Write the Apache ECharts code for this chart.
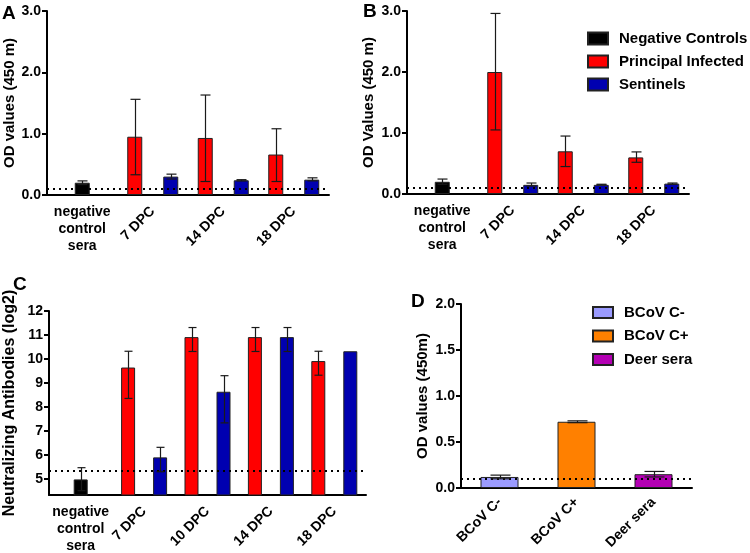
<!DOCTYPE html>
<html><head><meta charset="utf-8">
<script src="https://cdn.jsdelivr.net/npm/echarts@6/dist/echarts.min.js"></script>
<style>html,body{margin:0;padding:0;background:#fff}#c{width:750px;height:553px}</style>
</head><body><div id="c"></div>
<script>
// ---------------- data ----------------
const catsAB = ['negative\ncontrol\nsera', '7 DPC', '14 DPC', '18 DPC'];
const catsC  = ['negative\ncontrol\nsera', '7 DPC', '10 DPC', '14 DPC', '18 DPC'];
const catsD  = ['BCoV C-', 'BCoV C+', 'Deer sera'];

const A_neg = [0.20, null, null, null];
const A_neg_err = [[0.17, 0.23], null, null, null];
const A_inf = [null, 0.95, 0.93, 0.66];
const A_inf_err = [null, [0.33, 1.56], [0.22, 1.63], [0.22, 1.08]];
const A_sen = [null, 0.30, 0.24, 0.25];
const A_sen_err = [null, [0.26, 0.34], [0.23, 0.25], [0.23, 0.28]];

const B_neg = [0.20, null, null, null];
const B_neg_err = [[0.16, 0.245], null, null, null];
const B_inf = [null, 2.00, 0.70, 0.60];
const B_inf_err = [null, [1.05, 2.96], [0.45, 0.95], [0.52, 0.69]];
const B_sen = [null, 0.15, 0.15, 0.17];
const B_sen_err = [null, [0.13, 0.18], [0.15, 0.16], [0.16, 0.18]];

const C_neg = [4.97, null, null, null, null];
const C_neg_err = [[4.5, 5.46], null, null, null, null];
const C_inf = [null, 9.64, 10.91, 10.91, 9.91];
const C_inf_err = [null, [8.35, 10.32], [10.31, 11.31], [10.31, 11.31], [9.32, 10.32]];
const C_sen = [null, 5.89, 8.63, 10.91, 10.32];
const C_sen_err = [null, [5.29, 6.31], [7.33, 9.30], [10.31, 11.31], null];

const D_cneg = [0.12, null, null];
const D_cpos = [null, 0.72, null];
const D_deer = [null, null, 0.15];
const D_err = [[0.10, 0.14], [0.71, 0.73], [0.12, 0.18]];

const cutoffAB = [0.1];
const cutoffC = [5.32];
const cutoffD = [0.1];
const yTicksC = [5, 6, 7, 8, 9, 10, 11, 12];

// ---------------- styling helpers ----------------
const FF = '"Liberation Sans", Arial, Helvetica, sans-serif';
const COL = {neg: '#000000', inf: '#ff0000', sen: '#0000b0', cneg: '#9b9bff', cpos: '#ff8000', deer: '#b400b4'};
const txt = {color: '#000', fontFamily: FF, fontWeight: 'bold', fontSize: 14};

function gridAt(l, t, w, h) {
  return {left: l, top: t, width: w, height: h, containLabel: false, outerBoundsMode: 'none'};
}
function xMain(gi, cats, margin) {
  return {type: 'category', gridIndex: gi, data: cats, boundaryGap: true,
    axisLine: {lineStyle: {color: '#000', width: 2}},
    axisTick: {alignWithLabel: true, length: 6, lineStyle: {color: '#000', width: 2}},
    axisLabel: Object.assign({interval: 0, rotate: 45, margin: margin,
      formatter: (v, i) => (cats.length > 3 && i === 0) ? '' : v}, txt)};
}
function xNeg(gi, cats) {
  return {type: 'category', gridIndex: gi, data: cats, boundaryGap: true,
    axisLine: {show: false}, axisTick: {show: false},
    axisLabel: Object.assign({interval: 0, margin: 9, lineHeight: 17, align: 'center',
      formatter: (v, i) => i === 0 ? v : ''}, txt)};
}
function yAx(gi, o) {
  return Object.assign({type: 'value', gridIndex: gi, nameLocation: 'middle', nameRotate: 90,
    nameTextStyle: {color: '#000', fontFamily: FF, fontWeight: 'bold', fontSize: o.nameSize},
    axisLine: {show: true, lineStyle: {color: '#000', width: 2}},
    axisTick: {show: true, length: 5, lineStyle: {color: '#000', width: 2}},
    axisLabel: Object.assign({margin: 6, formatter: o.fmt}, txt, o.labelExtra || {}),
    splitLine: {show: false}}, o.ax);
}
const nz = arr => arr.map(v => v == null ? '-' : v);
function bar(name, xi, color, data, bw, gap) {
  return {type: 'bar', name: name, xAxisIndex: xi, yAxisIndex: xi, data: nz(data),
    barWidth: bw, barGap: gap, z: 2, silent: true,
    itemStyle: {color: color, borderColor: '#222', borderWidth: 1}};
}
function errSeries(xi, errs, offset, capW) {
  return {type: 'custom', xAxisIndex: xi, yAxisIndex: xi, z: 5, silent: true,
    data: errs.map((e, i) => e ? [i, e[0], e[1]] : null).filter(d => d),
    encode: {x: 0, y: [1, 2]},
    renderItem: (params, api) => {
      const i = api.value(0);
      const lo = api.coord([i, api.value(1)]);
      const hi = api.coord([i, api.value(2)]);
      const x = Math.round(lo[0] + offset) + 0.5, h = capW / 2;
      const st = {stroke: '#1a1a1a', lineWidth: 1.2};
      return {type: 'group', children: [
        {type: 'line', shape: {x1: x, y1: lo[1], x2: x, y2: hi[1]}, style: st},
        {type: 'line', shape: {x1: x - h, y1: hi[1], x2: x + h, y2: hi[1]}, style: st},
        {type: 'line', shape: {x1: x - h, y1: lo[1], x2: x + h, y2: lo[1]}, style: st}
      ]};
    }};
}
function cutLine(xi, val) {
  return {type: 'line', xAxisIndex: xi, yAxisIndex: xi, data: [], z: 1, silent: true,
    markLine: {silent: true, symbol: 'none', label: {show: false}, animation: false,
      lineStyle: {type: [2, 4], color: '#000', width: 2},
      data: val.map(v => ({yAxis: v}))}};
}

// ---------------- option ----------------
const series = [];
// Panel A (grid 0)
series.push(cutLine(0, cutoffAB));
series.push(bar('Principal Infected', 0, COL.inf, A_inf, 15, '20%'));
series.push(bar('Negative Controls', 0, COL.neg, A_neg, 15, '20%'));
series.push(bar('Sentinels', 0, COL.sen, A_sen, 15, '20%'));
series.push(errSeries(0, A_inf_err, -18, 10));
series.push(errSeries(0, A_neg_err, 0, 10));
series.push(errSeries(0, A_sen_err, 18, 10));
// Panel B (grid 1)
series.push(cutLine(1, cutoffAB));
series.push(bar('Principal Infected', 1, COL.inf, B_inf, 15, '20%'));
series.push(bar('Negative Controls', 1, COL.neg, B_neg, 15, '20%'));
series.push(bar('Sentinels', 1, COL.sen, B_sen, 15, '20%'));
series.push(errSeries(1, B_inf_err, -18, 10));
series.push(errSeries(1, B_neg_err, 0, 10));
series.push(errSeries(1, B_sen_err, 18, 10));
// Panel C (grid 2)
series.push(cutLine(2, cutoffC));
series.push(bar('Principal Infected', 2, COL.inf, C_inf, 14, '14.3%'));
series.push(bar('Negative Controls', 2, COL.neg, C_neg, 14, '14.3%'));
series.push(bar('Sentinels', 2, COL.sen, C_sen, 14, '14.3%'));
series.push(errSeries(2, C_inf_err, -16, 8));
series.push(errSeries(2, C_neg_err, 0, 8));
series.push(errSeries(2, C_sen_err, 16, 8));
// Panel D (grid 3)
series.push(cutLine(3, cutoffD));
series.push(bar('BCoV C-', 3, COL.cneg, D_cneg, 38, '-100%'));
series.push(bar('BCoV C+', 3, COL.cpos, D_cpos, 38, '-100%'));
series.push(bar('Deer sera', 3, COL.deer, D_deer, 38, '-100%'));
series.push(errSeries(3, D_err, 0, 20));

const letter = {fontSize: 19, fontWeight: 'bold', fontFamily: FF, color: '#000'};
const option = {
  animation: false,
  backgroundColor: '#fff',
  title: [
    {text: 'A', left: 2, top: 4, padding: 0, textStyle: letter},
    {text: 'B', left: 363, top: 2, padding: 0, textStyle: letter},
    {text: 'C', left: 13, top: 275, padding: 0, textStyle: letter},
    {text: 'D', left: 411, top: 292, padding: 0, textStyle: letter}
  ],
  legend: [
    {data: ['Negative Controls', 'Principal Infected', 'Sentinels'], orient: 'vertical', left: 587, top: 31,
      padding: 0, itemWidth: 20, itemHeight: 12, itemGap: 8, icon: 'rect', selectedMode: false,
      textStyle: {color: '#000', fontFamily: FF, fontWeight: 'bold', fontSize: 15, padding: [0, 0, 0, 6]}},
    {data: ['BCoV C-', 'BCoV C+', 'Deer sera'], orient: 'vertical', left: 592, top: 305,
      padding: 0, itemWidth: 20, itemHeight: 11, itemGap: 8.5, icon: 'rect', selectedMode: false,
      textStyle: {color: '#000', fontFamily: FF, fontWeight: 'bold', fontSize: 15, padding: [0, 0, 0, 6]}}
  ],
  grid: [
    gridAt(47, 11, 282, 184),
    gridAt(407, 11, 282, 183),
    gridAt(49, 311, 317, 184),
    gridAt(461, 304, 231, 184),
    gridAt(47, 11, 282, 184),
    gridAt(407, 11, 282, 183),
    gridAt(49, 311, 317, 184)
  ],
  xAxis: [
    xMain(0, catsAB, 14), xMain(1, catsAB, 14), xMain(2, catsC, 14), xMain(3, catsD, 12),
    xNeg(4, catsAB), xNeg(5, catsAB), xNeg(6, catsC)
  ],
  yAxis: [
    yAx(0, {nameSize: 15, fmt: v => v.toFixed(1), ax: {min: 0, max: 3, interval: 1, name: 'OD values (450 m)', nameGap: 26}}),
    yAx(1, {nameSize: 15, fmt: v => v.toFixed(1), ax: {min: 0, max: 3, interval: 1, name: 'OD Values (450 m)', nameGap: 31}}),
    yAx(2, {nameSize: 16, fmt: v => String(v), labelExtra: {customValues: yTicksC},
      ax: {min: 4.32, max: 12, name: 'Neutralizing Antibodies (log2)', nameGap: 31, axisTick: {show: true, length: 5, customValues: yTicksC, lineStyle: {color: '#000', width: 2}}}}),
    yAx(3, {nameSize: 15, fmt: v => v.toFixed(1), ax: {min: 0, max: 2, interval: 0.5, name: 'OD values (450m)', nameGap: 31}}),
    {type: 'value', gridIndex: 4, show: false, min: 0, max: 1},
    {type: 'value', gridIndex: 5, show: false, min: 0, max: 1},
    {type: 'value', gridIndex: 6, show: false, min: 0, max: 1}
  ],
  series: series
};
const chart = echarts.init(document.getElementById('c'), null, {renderer: 'canvas'});
chart.setOption(option);
</script>
</body></html>
